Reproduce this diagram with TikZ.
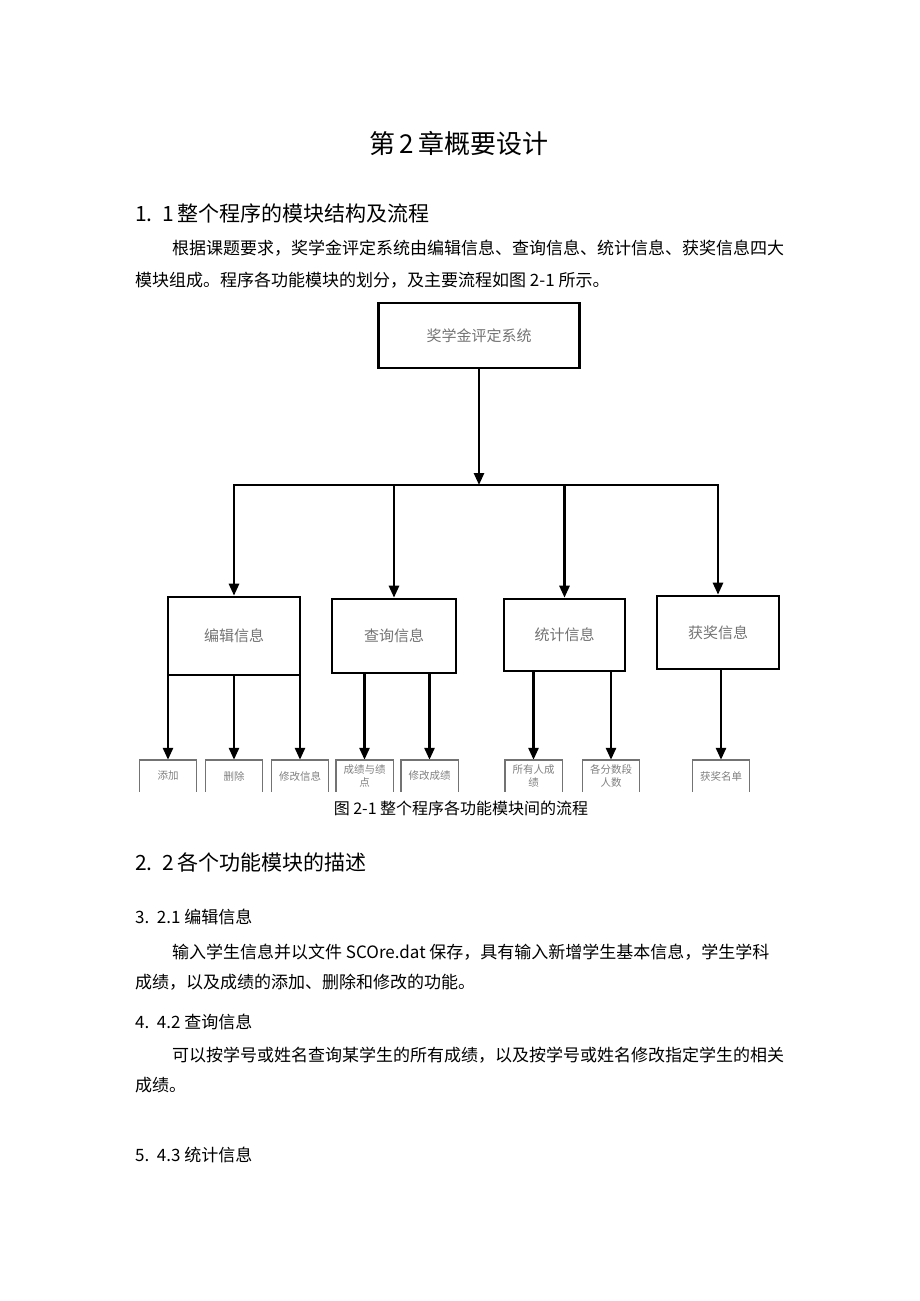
\documentclass[tikz,border=0pt]{standalone}
\usepackage{fontspec}
\setmainfont{Noto Sans CJK SC}
\usetikzlibrary{positioning,arrows.meta}

\begin{document}
\begin{tikzpicture}[x=1pt,y=-1pt,
                    main node/.style={draw,line width=2.6pt,text=black!55,inner sep=0pt,font=\fontsize{15}{18}\selectfont},
                    sub node/.style={inner sep=0pt,minimum width=57pt,minimum height=32pt,text width=52pt,align=center,text=black!50,font=\fontsize{10.5}{13}\selectfont},
                    sub line/.style={draw=black!55,line width=1.4pt},
                    arr/.style={line width=2.6pt,-{Triangle[length=12pt,width=10pt]}},
                    txt/.style={anchor=west,inner sep=0pt,font=\fontsize{17}{20}\selectfont},
                    head/.style={anchor=west,inner sep=0pt,font=\fontsize{21}{24}\selectfont}]

  \useasboundingbox (0,0) rectangle (920,1301);

  % page text
  \node (title) [inner sep=0pt,font=\fontsize{26}{30}\selectfont] at (459,143) {第\,2\,章概要设计};
  \node (h1) [head] at (135,213) {1.~~1\,整个程序的模块结构及流程};
  \node (p1) [txt] at (172,248) {根据课题要求，奖学金评定系统由编辑信息、查询信息、统计信息、获奖信息四大};
  \node (p2) [txt] at (135,280) {模块组成。程序各功能模块的划分，及主要流程如图 2-1 所示。};

  % diagram
  \node[main node,minimum width=201pt,minimum height=65pt] (sys) at (479,335.5) {奖学金评定系统};
  \node[main node,minimum width=132pt,minimum height=78pt] (edit) at (234,636) {编辑信息};
  \node[main node,minimum width=124pt,minimum height=74pt] (query) at (394,636) {查询信息};
  \node[main node,minimum width=121pt,minimum height=72pt] (stat) at (564.5,635) {统计信息};
  \node[main node,minimum width=122pt,minimum height=73pt] (award) at (718,632.5) {获奖信息};

  \node[sub node] (add) at (168,776) {添加};
  \node[sub node] (del) at (234,776) {删除};
  \node[sub node] (modinfo) at (300,776) {修改信息};
  \node[sub node] (score) at (364.5,776) {成绩与绩\\点};
  \node[sub node] (modscore) at (429.5,776) {修改成绩};
  \node[sub node] (all) at (533.5,776) {所有人成\\绩};
  \node[sub node] (seg) at (611,776) {各分数段\\人数};
  \node[sub node] (list) at (721,776) {获奖名单};

  \coordinate (bus) at (479,485);
  \draw[arr] (sys) -- (bus);
  \draw[line width=2.6pt,line cap=rect] (edit |- bus) -- (award |- bus);
  \foreach \m in {edit,query,stat,award}
    \draw[arr] (\m |- bus) -- (\m.north);

  \foreach \m/\s in {edit/add,edit/del,edit/modinfo,query/score,query/modscore,stat/all,stat/seg,award/list}
    \draw[arr] (\m.south -| \s) -- (\s.north);

  \foreach \s in {add,del,modinfo,score,modscore,all,seg,list}
    \draw[sub line] (\s.south west) |- (\s.north east) -- (\s.south east);

  \node (cap) [inner sep=0pt,font=\fontsize{16}{19}\selectfont] at (461,808) {图 2-1 整个程序各功能模块间的流程};

  % sections
  \node (h2) [head] at (135,862) {2.~~2\,各个功能模块的描述};
  \node (s1) [txt] at (135,917) {3.~~2.1 编辑信息};
  \node (p3) [txt] at (172,952) {输入学生信息并以文件 SCOre.dat 保存，具有输入新增学生基本信息，学生学科};
  \node (p4) [txt] at (135,982) {成绩，以及成绩的添加、删除和修改的功能。};
  \node (s2) [txt] at (135,1022) {4.~~4.2 查询信息};
  \node (p5) [txt] at (172,1055) {可以按学号或姓名查询某学生的所有成绩，以及按学号或姓名修改指定学生的相关};
  \node (p6) [txt] at (135,1085) {成绩。};
  \node (s3) [txt] at (135,1155) {5.~~4.3 统计信息};
\end{tikzpicture}
\end{document}
